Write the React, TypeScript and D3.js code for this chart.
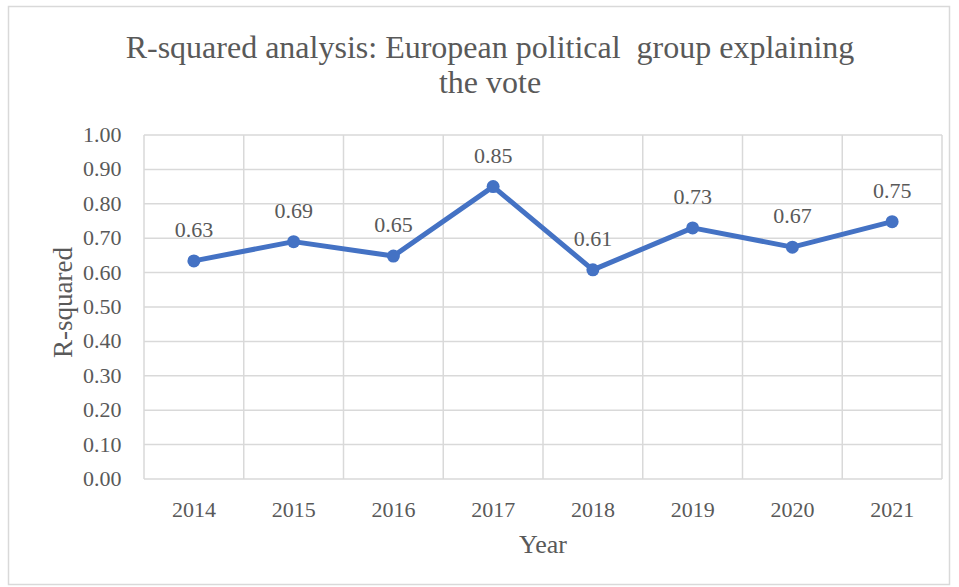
import React from "react";
import * as d3 from "d3";

const years = ["2014", "2015", "2016", "2017", "2018", "2019", "2020", "2021"];
const rSquared = [0.634, 0.69, 0.648, 0.85, 0.608, 0.73, 0.674, 0.748];
const yTicks = [0, 0.1, 0.2, 0.3, 0.4, 0.5, 0.6, 0.7, 0.8, 0.9, 1.0];
const titleLines = ["R-squared analysis: European political  group explaining", "the vote"];

export default function App() {
  const W = 959, H = 587;
  const left = 144, right = 942, top = 135, bottom = 479;
  const x = d3.scaleBand<string>().domain(years).range([left, right]);
  const y = d3.scaleLinear().domain([0, 1]).range([bottom, top]);
  const line = d3.line<number>()
    .x((_, i) => x(years[i])! + x.bandwidth() / 2)
    .y((d) => y(d));
  const font = "'Liberation Serif', 'Times New Roman', serif";
  const grid = "#d9d9d9";
  const txt = "#595959";
  const bounds = [...years.map((yr) => x(yr)!), right];
  return (
    <svg width={W} height={H} style={{ position: "absolute", left: 0, top: 0 }} fontFamily={font}>
      <rect x={0} y={0} width={W} height={H} fill="#fff" />
      <rect x={8.5} y={6.5} width={941} height={578} fill="none" stroke={grid} strokeWidth={1.5} />
      {titleLines.map((t, i) => (
        <text key={i} x={490} y={58 + i * 35} textAnchor="middle" fontSize={32} fill={txt} style={{ whiteSpace: "pre" }}>{t}</text>
      ))}
      {yTicks.map((t) => (
        <g key={t}>
          <line x1={left} x2={right} y1={y(t)} y2={y(t)} stroke={grid} strokeWidth={1.5} />
          <text x={121.5} y={y(t) + 7} textAnchor="end" fontSize={22} fill={txt}>{t.toFixed(2)}</text>
        </g>
      ))}
      {bounds.map((b, i) => (
        <line key={i} x1={b} x2={b} y1={top} y2={bottom} stroke={grid} strokeWidth={1.5} />
      ))}
      {years.map((yr) => (
        <text key={yr} x={x(yr)! + x.bandwidth() / 2} y={516.5} textAnchor="middle" fontSize={22} fill={txt}>{yr}</text>
      ))}
      <path d={line(rSquared)!} fill="none" stroke="#4472C4" strokeWidth={5} strokeLinejoin="round" />
      {rSquared.map((v, i) => (
        <g key={i}>
          <circle cx={x(years[i])! + x.bandwidth() / 2} cy={y(v)} r={6.5} fill="#4472C4" />
          <text x={x(years[i])! + x.bandwidth() / 2} y={y(v) - 24} textAnchor="middle" fontSize={22} fill={txt}>{v.toFixed(2)}</text>
        </g>
      ))}
      <text transform={`translate(72,302.5) rotate(-90)`} textAnchor="middle" fontSize={27} fill={txt}>R-squared</text>
      <text x={543} y={553} textAnchor="middle" fontSize={26} fill={txt}>Year</text>
    </svg>
  );
}
